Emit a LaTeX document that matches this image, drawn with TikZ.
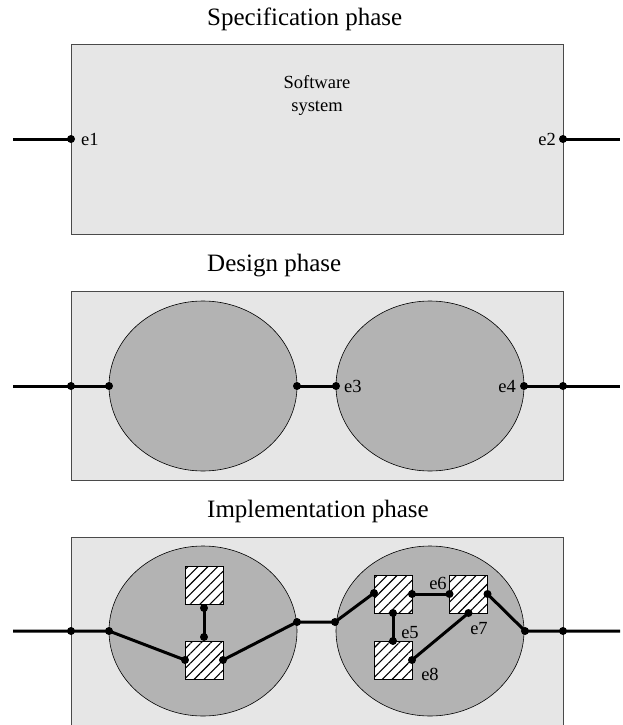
\documentclass[tikz,border=0pt]{standalone}
\usepackage{fontspec}
\setmainfont{Liberation Serif}
\usetikzlibrary{shapes.geometric,patterns.meta}
\definecolor{boxgray}{HTML}{E6E6E6}
\definecolor{ellgray}{HTML}{B3B3B3}
\definecolor{edgegray}{HTML}{4A4A4A}
\begin{document}
\begin{tikzpicture}[x=1pt,y=-1pt,
  panel/.style={draw=edgegray,line width=0.9pt,fill=boxgray,anchor=center,inner sep=0pt,outer sep=0pt,minimum width=492pt},
  blob/.style={ellipse,draw=black,line width=0.6pt,fill=ellgray,inner sep=0pt,minimum width=188pt,minimum height=170pt},
  hatchbox/.style={draw=black,line width=0.8pt,fill=white,postaction={pattern={Lines[angle=45,distance=7pt,line width=1.1pt]},pattern color=black},minimum size=38pt,inner sep=0pt},
  conn/.style={line width=3pt},
  dot/.style={circle,fill=black,inner sep=0pt,minimum size=8pt},
  title/.style={font=\fontsize{25}{30}\selectfont,anchor=base west,inner sep=0pt},
  lbl/.style={font=\fontsize{18.5}{23.5}\selectfont,inner sep=0pt},
]
\useasboundingbox (0,0) rectangle (622,725);

% ---------- Specification phase ----------
\node[title] (t1) at (207,26) {Specification phase};
\node[panel,minimum height=190pt] (P1) at (317,139) {};
\node[lbl,align=center,anchor=north] (sw) at (317,75) {Software\\system};
\coordinate (a1) at (13,139);
\coordinate (b1) at (620,139);
\node[dot] (p1l) at (71,139) {};
\node[dot] (p1r) at (563,139) {};
\draw[conn] (a1) -- (p1l.center);
\draw[conn] (p1r.center) -- (b1);
\node[lbl,anchor=west] (e1) at (81,139) {e1};
\node[lbl,anchor=east] (e2) at (556,139) {e2};

% ---------- Design phase ----------
\node[title] (t2) at (207,271) {Design phase};
\node[panel,minimum height=189pt] (P2) at (317,385.5) {};
\node[blob] (E1) at (203,386) {};
\node[blob] (E2) at (430,386) {};
\coordinate (a2) at (13,386);
\coordinate (b2) at (620,386);
\node[dot] (p2l) at (71,386) {};
\node[dot] (p2r) at (563,386) {};
\node[dot] (e1l) at (109,386) {};
\node[dot] (e1r) at (297,386) {};
\node[dot] (e2l) at (336,386) {};
\node[dot] (e2r) at (524,386) {};
\draw[conn] (a2) -- (p2l.center) -- (e1l.center);
\draw[conn] (e1r.center) -- (e2l.center);
\draw[conn] (e2r.center) -- (p2r.center) -- (b2);
\node[lbl,anchor=west] (e3) at (344,386) {e3};
\node[lbl,anchor=east] (e4) at (516,386) {e4};

% ---------- Implementation phase ----------
\node[title] (t3) at (207,517) {Implementation phase};
\node[panel,minimum height=190pt] (P3) at (317,632) {};
\node[blob] (F1) at (203,631) {};
\node[blob] (F2) at (430,631) {};
\node[hatchbox] (L1) at (204,585) {};
\node[hatchbox] (L2) at (204,660) {};
\node[hatchbox] (RA) at (393,594) {};
\node[hatchbox] (RB) at (468.5,594) {};
\node[hatchbox] (RC) at (393,660) {};
\coordinate (a3) at (13,631);
\coordinate (b3) at (620,631);
\node[dot] (q1) at (71,631) {};
\node[dot] (q2) at (109,631) {};
\node[dot] (q3) at (185,660) {};
\node[dot] (q4) at (223,660) {};
\node[dot] (q5) at (297,622) {};
\node[dot] (q6) at (335,622) {};
\node[dot] (q7) at (204,608) {};
\node[dot] (q8) at (204,637) {};
\node[dot] (r1) at (374,593) {};
\node[dot] (r2) at (412,594) {};
\node[dot] (r3) at (449.5,594) {};
\node[dot] (r4) at (393,613) {};
\node[dot] (r5) at (393,641) {};
\node[dot] (r6) at (468.5,613) {};
\node[dot] (r7) at (412,660) {};
\node[dot] (r8) at (487.5,594) {};
\node[dot] (r9) at (525,631) {};
\node[dot] (r10) at (563,631) {};
\draw[conn] (a3) -- (q1.center) -- (q2.center) -- (q3.center);
\draw[conn] (q4.center) -- (q5.center) -- (q6.center) -- (r1.center);
\draw[conn] (q7.center) -- (q8.center);
\draw[conn] (r2.center) -- (r3.center);
\draw[conn] (r4.center) -- (r5.center);
\draw[conn] (r7.center) -- (r6.center);
\draw[conn] (r8.center) -- (r9.center) -- (r10.center) -- (b3);
\node[lbl] (e5) at (410,633) {e5};
\node[lbl] (e6) at (438,583) {e6};
\node[lbl] (e7) at (479,629) {e7};
\node[lbl] (e8) at (430,674) {e8};
\end{tikzpicture}
\end{document}
